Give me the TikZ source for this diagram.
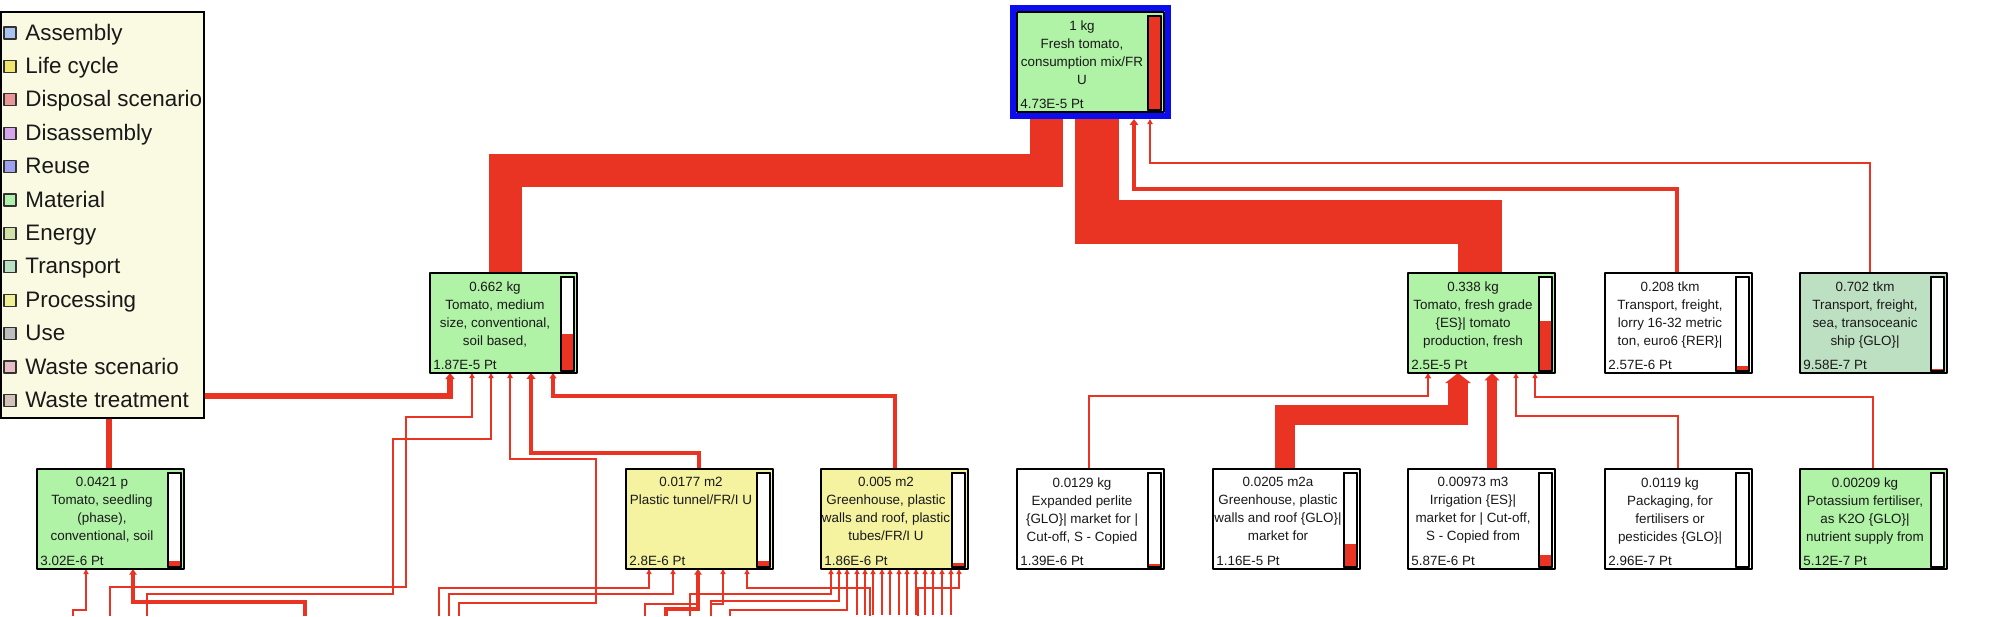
\documentclass[tikz,border=0pt]{standalone}
\usepackage{fontspec}
\setmainfont{Liberation Sans}
\usetikzlibrary{calc,arrows.meta,backgrounds}
\definecolor{flowred}{RGB}{233,52,36}
\definecolor{matgreen}{RGB}{176,242,166}
\definecolor{procyellow}{RGB}{245,243,160}
\definecolor{transgreen}{RGB}{190,224,194}
\definecolor{legendbg}{RGB}{250,249,226}
\definecolor{selblue}{RGB}{12,12,240}
\definecolor{txtgray}{RGB}{25,25,25}
\definecolor{lgAssembly}{RGB}{170,195,240}
\definecolor{lgLife}{RGB}{240,230,110}
\definecolor{lgDisposal}{RGB}{235,150,150}
\definecolor{lgDisassembly}{RGB}{215,165,235}
\definecolor{lgReuse}{RGB}{160,160,240}
\definecolor{lgMaterial}{RGB}{175,240,170}
\definecolor{lgEnergy}{RGB}{210,225,165}
\definecolor{lgTransport}{RGB}{185,225,195}
\definecolor{lgProcessing}{RGB}{240,240,150}
\definecolor{lgUse}{RGB}{190,190,190}
\definecolor{lgWasteSc}{RGB}{230,190,195}
\definecolor{lgWasteTr}{RGB}{210,195,185}
\begin{document}
\begin{tikzpicture}[x=0.5pt, y=-0.5pt, >={Triangle[length=2.3pt 0.27, width=1.7pt 1.08]}, line join=round, line cap=round,
	flow/.style={draw=flowred, line width=#1*0.5pt},
	procbox/.style={draw=black, line width=1pt, minimum width=73.5pt, minimum height=50pt, inner sep=0pt, outer sep=0pt, anchor=north west},
	proctext/.style={font=\fontsize{6.7}{9}\selectfont, align=center, inner sep=0pt, anchor=north, text=txtgray},
	procval/.style={font=\fontsize{6.7}{9}\selectfont, inner sep=0pt, anchor=base west, text=txtgray},
	procbar/.style={draw=black, line width=0.8pt, fill=white, minimum width=6.5pt, minimum height=47pt, inner sep=0pt, outer sep=0pt, anchor=north east},
	legsq/.style={draw=black!80, line width=0.6pt, minimum size=6pt, inner sep=0pt},
	legitem/.style={font=\fontsize{11.2}{13}\selectfont, inner sep=0pt, anchor=base west, text=txtgray}]
	\def\procnode#1#2#3#4#5#6{% name, position, fill, text, value, share of the bar
		\node[procbox, fill=#3] (#1) at #2 {};
		\node[proctext] (#1-t) at ($(#1.north west)+(65,8)$) {#4};
		\node[procbar] (#1-b) at ($(#1.north east)+(-3,4)$) {};
		\fill[flowred] (#1-b.south west) rectangle ($(#1-b.south east)+(0,-94*#6)$);
		\draw[line width=0.8pt] (#1-b.south west) rectangle (#1-b.north east);
		\node[procval] (#1-v) at ($(#1.south west)+(3,-4)$) {#5};}
	\useasboundingbox (0,0) rectangle (2000,616);
	\procnode{T}{(1017,12)}{matgreen}{1 kg\\Fresh tomato,\\consumption mix/FR\\U}{4.73E-5 Pt}{1}
	\draw[selblue, line width=3pt, line join=miter] ($(T.north west)+(-4,-4)$) rectangle ($(T.south east)+(4,4)$);
	\procnode{A}{(430,273)}{matgreen}{0.662 kg\\Tomato, medium\\size, conventional,\\soil based,}{1.87E-5 Pt}{0.395}
	\procnode{B}{(1408,273)}{matgreen}{0.338 kg\\Tomato, fresh grade\\\{ES\}| tomato\\production, fresh}{2.5E-5 Pt}{0.529}
	\procnode{K}{(1605,273)}{white}{0.208 tkm\\Transport, freight,\\lorry 16-32 metric\\ton, euro6 \{RER\}|}{2.57E-6 Pt}{0.054}
	\procnode{L}{(1800,273)}{transgreen}{0.702 tkm\\Transport, freight,\\sea, transoceanic\\ship \{GLO\}|}{9.58E-7 Pt}{0.02}
	\procnode{C}{(37,469)}{matgreen}{0.0421 p\\Tomato, seedling\\(phase),\\conventional, soil}{3.02E-6 Pt}{0.064}
	\procnode{D}{(626,469)}{procyellow}{0.0177 m2\\Plastic tunnel/FR/I U}{2.8E-6 Pt}{0.059}
	\procnode{E}{(821,469)}{procyellow}{0.005 m2\\Greenhouse, plastic\\walls and roof, plastic\\tubes/FR/I U}{1.86E-6 Pt}{0.039}
	\procnode{F}{(1017,469)}{white}{0.0129 kg\\Expanded perlite\\\{GLO\}| market for |\\Cut-off, S - Copied}{1.39E-6 Pt}{0.029}
	\procnode{G}{(1213,469)}{white}{0.0205 m2a\\Greenhouse, plastic\\walls and roof \{GLO\}|\\market for}{1.16E-5 Pt}{0.245}
	\procnode{H}{(1408,469)}{white}{0.00973 m3\\Irrigation \{ES\}|\\market for | Cut-off,\\S - Copied from}{5.87E-6 Pt}{0.124}
	\procnode{I}{(1605,469)}{white}{0.0119 kg\\Packaging, for\\fertilisers or\\pesticides \{GLO\}|}{2.96E-7 Pt}{0.006}
	\procnode{J}{(1800,469)}{matgreen}{0.00209 kg\\Potassium fertiliser,\\as K2O \{GLO\}|\\nutrient supply from}{5.12E-7 Pt}{0.011}
	\foreach \n/\x in {a1/110, a2/147, a3/459, c1/73, c2/305, d1/439, d2/449, d3/666, d4/645, d5/711, d6/870, e1/690, e2/711, e3/730, e4/918}
		\coordinate (\n) at (\x,616);
	\begin{pgfonlayer}{background}
		\fill[white] (0,0) rectangle (2000,616);
		% into the top node
		\draw[flow=33] ($(A.north west)+(75,0)$) -- ++(0,-103) -| ($(T.south west)+(29,0)$);
		\draw[flow=44] ($(B.north west)+(72,0)$) -- ++(0,-51) -| ($(T.south west)+(80,0)$);
		\draw[flow=4.5,->] ($(K.north west)+(72,0)$) -- ++(0,-84) -| ($(T.south west)+(117,7)$);
		\draw[flow=1.7,->] ($(L.north west)+(70,0)$) -- ++(0,-110) -| ($(T.south west)+(133,7)$);
		% into B
		\draw[flow=2.4,->] ($(F.north west)+(72,0)$) -- ++(0,-73) -| ($(B.south west)+(20,0)$);
		\draw[flow=20.4,->] ($(G.north west)+(72,0)$) -- ++(0,-54) -| ($(B.south west)+(50,0)$);
		\draw[flow=10.3,->] ($(H.north west)+(84,0)$) -- ($(B.south west)+(84,0)$);
		\draw[flow=1.5,->] ($(I.north west)+(73,0)$) -- ++(0,-53) -| ($(B.south west)+(108,0)$);
		\draw[flow=1.5,->] ($(J.north west)+(73,0)$) -- ++(0,-72) -| ($(B.south west)+(127,0)$);
		% into A
		\draw[flow=5.3,->] ($(C.north west)+(72,0)$) -- ++(0,-73) -| ($(A.south west)+(20,0)$);
		\draw[flow=3.3,->] ($(E.north west)+(74,0)$) -- ++(0,-73) -| ($(A.south west)+(123,0)$);
		\draw[flow=4.9,->] ($(D.north west)+(73,0)$) -- ++(0,-16) -| ($(A.south west)+(101,0)$);
		\draw[flow=1.6,->] (a1) -- ++(0,-29) -| (406,417) -| ($(A.south west)+(42,0)$);
		\draw[flow=1.6,->] (a2) -- ++(0,-22) -| (393,439) -| ($(A.south west)+(61,0)$);
		\draw[flow=2,->] (a3) -- ++(0,-13) -| (596,459) -| ($(A.south west)+(80,0)$);
		% into C, D and E
		\draw[flow=1.5,->] (c1) -- ++(0,-6) -| ($(C.south west)+(49,0)$);
		\draw[flow=3.5,->] (c2) -- ++(0,-14) -| ($(C.south west)+(96,0)$);
		\draw[flow=1.5,->] (d1) -- ++(0,-28) -| ($(D.south west)+(23,0)$);
		\draw[flow=1.5,->] (d2) -- ++(0,-22) -| ($(D.south west)+(47,0)$);
		\draw[flow=3.5,->] (d3) -- ++(0,-7) -| ($(D.south west)+(72,0)$);
		\draw[flow=1.5,->] (d4) -- ++(0,-12) -| ($(D.south west)+(72,0)$);
		\draw[flow=1.5,->] (d5) -- ++(0,-12) -| ($(D.south west)+(97,0)$);
		\draw[flow=1.5,->] (d6) -- ++(0,-28) -| ($(D.south west)+(121,0)$);
		\draw[flow=1.5,->] (e1) -- ++(0,-22) -| ($(E.south west)+(10,0)$);
		\draw[flow=1.5,->] (e2) -- ++(0,-15) -| ($(E.south west)+(18,0)$);
		\draw[flow=1.5,->] (e3) -- ++(0,-6) -| ($(E.south west)+(26,0)$);
		\draw[flow=1.5,->] (e4) -- ++(0,-28) -| ($(E.south west)+(138,0)$);
		\foreach \dx in {36,44,52,61,69,78,86,95,104,112,121,130}
			\draw[flow=1.5,->] ($(E.south west)+(\dx,46)$) -- ($(E.south west)+(\dx,0)$);
	\end{pgfonlayer}
	\node[draw=black, line width=1pt, fill=legendbg, minimum width=101.5pt, minimum height=203pt, inner sep=0pt, outer sep=0pt, anchor=north west, line join=miter] (legend) at (1,12) {};
	\foreach \lbl/\col [count=\i from 0] in {Assembly/lgAssembly, Life cycle/lgLife, Disposal scenario/lgDisposal, Disassembly/lgDisassembly, Reuse/lgReuse, Material/lgMaterial, Energy/lgEnergy, Transport/lgTransport, Processing/lgProcessing, Use/lgUse, Waste scenario/lgWasteSc, Waste treatment/lgWasteTr}{
		\node[legsq, fill=\col] (sq\i) at (10,33+33.4*\i) {};
		\node[legitem] (leg\i) at (25,40+33.4*\i) {\lbl};}
\end{tikzpicture}
\end{document}
